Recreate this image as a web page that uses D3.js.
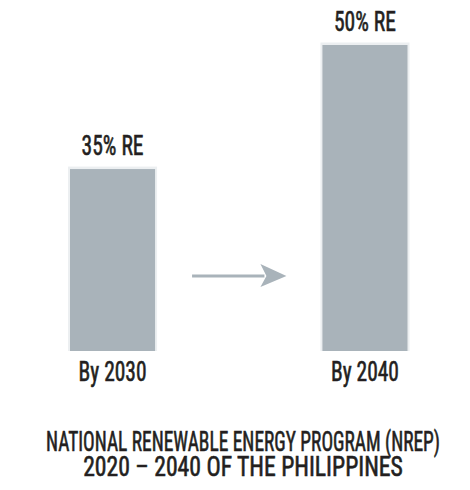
<!DOCTYPE html>
<html>
<head>
<meta charset="utf-8">
<script src="https://cdn.jsdelivr.net/npm/d3@7/dist/d3.min.js"></script>
<style>
  html, body { margin: 0; padding: 0; background: #ffffff; }
  svg { display: block; }
  text {
    font-family: "Roboto Condensed", "DejaVu Sans Condensed", sans-serif;
    fill: #231f20;
    stroke: #231f20;
    stroke-width: 0.6px;
    paint-order: stroke;
  }
</style>
</head>
<body>
<svg id="chart" width="470" height="490"></svg>
<script>
// Renewable energy share targets
const categories = ["By 2030", "By 2040"];
const shares = [35, 50];
const valueLabels = ["35% RE", "50% RE"];
const titleLines = [
  "NATIONAL RENEWABLE ENERGY PROGRAM (NREP)",
  "2020 \u2013 2040 OF THE PHILIPPINES"
];

const svg = d3.select("#chart");

const barFill = "#a9b3ba";
const barEdge = "#eceff1";
const FONT_SIZE = 27;

// Squeeze a text horizontally to a given width, centred on cx at baseline y
function fitText(sel, cx, y, width) {
  sel.each(function () {
    const w = this.getComputedTextLength();
    const sx = width / w;
    d3.select(this)
      .attr("x", 0).attr("y", 0).attr("dy", null)
      .attr("text-anchor", "middle")
      .attr("transform", `translate(${cx},${y}) scale(${sx},1)`);
  });
}

const x = d3.scaleBand()
  .domain(categories)
  .range([70, 407.5])
  .paddingInner(0.663)
  .paddingOuter(0);

// Bars rise from a common baseline; the scale starts above zero
const y = d3.scaleLinear()
  .domain([13, 50])
  .range([351, 45]);

const base = y.range()[0];
const data = categories.map((c, i) => ({ cat: c, v: shares[i], label: valueLabels[i] }));

const bars = svg.append("g");

// soft outer edge
bars.selectAll("rect.edge")
  .data(data)
  .join("rect")
  .attr("class", "edge")
  .attr("x", d => x(d.cat) - 2)
  .attr("y", d => y(d.v) - 2.5)
  .attr("width", x.bandwidth() + 4)
  .attr("height", d => base - y(d.v) + 2.5)
  .attr("fill", barEdge);

bars.selectAll("rect.bar")
  .data(data)
  .join("rect")
  .attr("class", "bar")
  .attr("x", d => x(d.cat))
  .attr("y", d => y(d.v))
  .attr("width", x.bandwidth())
  .attr("height", d => base - y(d.v))
  .attr("fill", barFill);

// value labels above the bars
svg.selectAll("text.val")
  .data(data)
  .join("text")
  .attr("class", "val")
  .attr("font-size", FONT_SIZE)
  .text(d => d.label)
  .each(function (d) {
    fitText(d3.select(this), x(d.cat) + x.bandwidth() / 2, y(d.v) - 14, 62);
  });

// category labels below the bars
const xAxis = d3.axisBottom(x).tickSize(0).tickPadding(0);
const axisG = svg.append("g")
  .attr("transform", `translate(0,${base})`)
  .call(xAxis)
  .attr("font-family", null)
  .attr("font-size", null);
axisG.select(".domain").remove();
axisG.selectAll("text")
  .attr("font-size", FONT_SIZE)
  .attr("fill", "#231f20")
  .each(function () {
    fitText(d3.select(this), 0, 30, 68);
  });

// arrow between the two targets
const ax0 = x(categories[0]) + x.bandwidth() + 37;
const ax1 = x(categories[1]) - 36;
const ay = 276;
svg.append("line")
  .attr("x1", ax0).attr("x2", ax1 - 22)
  .attr("y1", ay).attr("y2", ay)
  .attr("stroke", barFill)
  .attr("stroke-width", 3);
svg.append("path")
  .attr("d", `M${ax1 - 26},${ay - 12} L${ax1},${ay} L${ax1 - 26},${ay + 11} L${ax1 - 20},${ay} Z`)
  .attr("fill", barFill);

// title
svg.selectAll("text.title")
  .data(titleLines)
  .join("text")
  .attr("class", "title")
  .attr("font-size", FONT_SIZE)
  .text(d => d)
  .each(function (d, i) {
    fitText(d3.select(this), 243, 451 + i * 25, i === 0 ? 394 : 320);
  });
</script>
</body>
</html>
